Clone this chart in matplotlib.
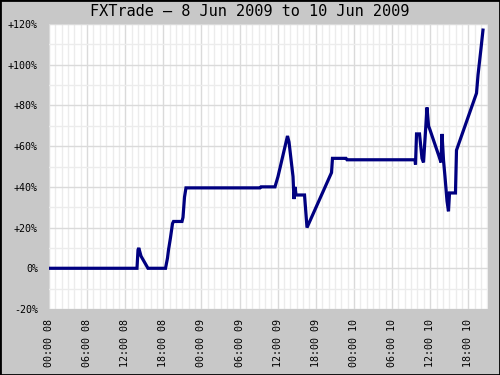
import matplotlib
matplotlib.use("Agg")
import matplotlib.pyplot as plt
from matplotlib.patches import Rectangle
from matplotlib.ticker import MultipleLocator, FixedLocator

# hours since 2009-06-08 00:00
hours = [0, 13.85, 14.01, 14.13, 14.48, 15.58, 18.34, 18.65, 18.81, 19.12, 19.44, 19.6,
         20.93, 21.09, 21.33, 21.56, 33.21, 33.37, 35.57, 36.04, 37.54, 37.78, 38.41,
         38.56, 38.72, 38.88, 40.22, 40.61, 44.47, 44.62, 46.75, 46.91, 57.61, 57.69,
         57.85, 58.32, 58.71, 58.95, 59.5, 59.74, 59.97, 61.39, 61.7, 61.86, 62.1,
         62.33, 62.65, 62.88, 63.04, 63.98, 64.14, 67.29, 67.53, 68.0, 68.31]
pct = [0, 0, 9, 10, 6, 0, 0, 5, 9, 15, 22, 23,
       23, 25, 35, 39.5, 39.5, 40, 40, 45, 65, 62, 45,
       34, 40, 36, 36, 20, 47, 54, 54, 53.3, 53.3, 51,
       66, 66, 54, 52, 79, 70, 68, 55, 52, 66, 53,
       45, 33, 28, 37, 37, 58, 86, 95, 108, 117]
tick_hours = [0, 6, 12, 18, 24, 30, 36, 42, 48, 54, 60, 66]
tick_labels = ["00:00 08", "06:00 08", "12:00 08", "18:00 08",
               "00:00 09", "06:00 09", "12:00 09", "18:00 09",
               "00:00 10", "06:00 10", "12:00 10", "18:00 10"]
ytick_vals = [-20, 0, 20, 40, 60, 80, 100, 120]
ytick_labels = ["-20%", "0%", "+20%", "+40%", "+60%", "+80%", "+100%", "+120%"]
title = "FXTrade \u2013 8 Jun 2009 to 10 Jun 2009"

fig = plt.figure(figsize=(5, 3.75), dpi=100, facecolor="#c8c8c8")
ax = fig.add_axes([49/500, 1-309/375, (488-49)/500, (309-24)/375])
ax.set_facecolor("white")
ax.set_xlim(0, 69.1)
ax.set_ylim(-20, 120)

ax.xaxis.set_major_locator(FixedLocator(tick_hours))
ax.xaxis.set_minor_locator(MultipleLocator(1))
ax.yaxis.set_major_locator(FixedLocator(ytick_vals))
ax.yaxis.set_minor_locator(MultipleLocator(10))
ax.grid(which="major", color="#dadada", linewidth=1.0)
ax.grid(which="minor", color="#ececec", linewidth=1.0)
ax.set_axisbelow(True)

ax.set_xticklabels(tick_labels, rotation=90, va="top", ha="center",
                   fontfamily="DejaVu Sans Mono", fontsize=7.2)
ax.set_yticklabels(ytick_labels, fontfamily="DejaVu Sans Mono", fontsize=7.2)
ax.tick_params(which="both", length=0)
ax.tick_params(axis="x", pad=7)
ax.tick_params(axis="y", pad=8)
for s in ax.spines.values():
    s.set_visible(False)

ax.plot(hours, pct, color="#000080", linewidth=2.3, solid_joinstyle="miter")

fig.text(0.5, 1-12/375, title, ha="center", va="center",
         fontfamily="DejaVu Sans Mono", fontsize=11)
fig.patches.append(Rectangle((0, 0), 1, 1, transform=fig.transFigure,
                             fill=False, edgecolor="black", linewidth=2))
fig.savefig("out.png", dpi=100, facecolor=fig.get_facecolor())
